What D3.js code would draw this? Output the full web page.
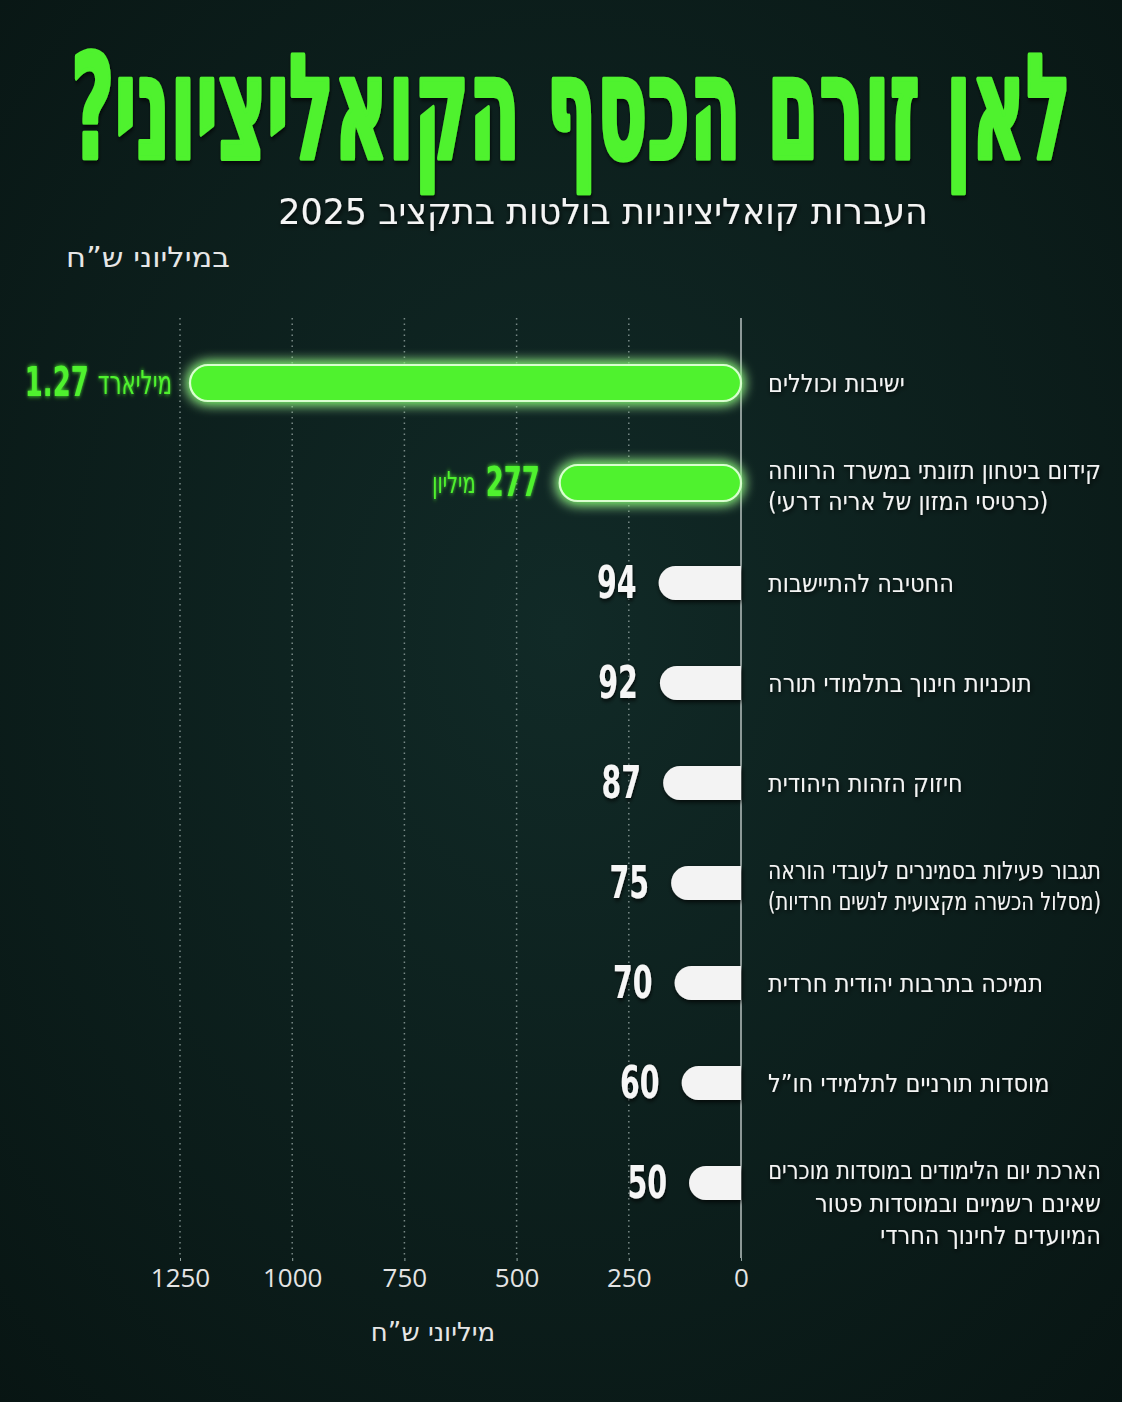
<!DOCTYPE html>
<html lang="he">
<head>
<meta charset="utf-8">
<script src="https://cdn.jsdelivr.net/npm/d3@7"></script>
<style>
  html, body { margin: 0; padding: 0; background: #0c1e1c; }
  svg { display: block; }
</style>
</head>
<body>
<svg id="chart" width="1122" height="1402"></svg>
<script>
// ---------- data ----------
const titleText = "לאן זורם הכסף הקואליציוני?";
const subtitleText = "העברות קואליציוניות בולטות בתקציב 2025";
const unitNote = "במיליוני ש”ח";
const axisTitle = "מיליוני ש”ח";

const categories = [
  "ישיבות וכוללים",
  "קידום ביטחון תזונתי במשרד הרווחה\n(כרטיסי המזון של אריה דרעי)",
  "החטיבה להתיישבות",
  "תוכניות חינוך בתלמודי תורה",
  "חיזוק הזהות היהודית",
  "תגבור פעילות בסמינרים לעובדי הוראה\n(מסלול הכשרה מקצועית לנשים חרדיות)",
  "תמיכה בתרבות יהודית חרדית",
  "מוסדות תורניים לתלמידי חו”ל",
  "הארכת יום הלימודים במוסדות מוכרים\nשאינם רשמיים ובמוסדות פטור\nהמיועדים לחינוך החרדי"
];
const values = [1270, 277, 94, 92, 87, 75, 70, 60, 50];   // millions of NIS
const tickValues = [0, 250, 500, 750, 1000, 1250];
const unitBillion = "מיליארד";
const unitMillion = "מיליון";
const highlightThreshold = 200;

// ---------- setup ----------
const W = 1122, H = 1402;
const svg = d3.select("#chart");
const GREEN = "#4ff22f";
const hebFont = "'DejaVu Sans', sans-serif";
const condFont = "'DejaVu Sans Condensed', 'DejaVu Sans', sans-serif";
const NARROW = 0.72;   // horizontal squeeze for the condensed number font

const defs = svg.append("defs");
const bg = defs.append("radialGradient").attr("id", "bg").attr("cx", "50%").attr("cy", "45%").attr("r", "75%");
bg.append("stop").attr("offset", "0%").attr("stop-color", "#112a27");
bg.append("stop").attr("offset", "100%").attr("stop-color", "#081513");

const glow = defs.append("filter").attr("id", "glow").attr("x", "-20%").attr("y", "-80%").attr("width", "140%").attr("height", "260%");
glow.append("feGaussianBlur").attr("in", "SourceGraphic").attr("stdDeviation", 7).attr("result", "b");
const gm = glow.append("feMerge");
gm.append("feMergeNode").attr("in", "b");
gm.append("feMergeNode").attr("in", "b");
gm.append("feMergeNode").attr("in", "SourceGraphic");

const tglow = defs.append("filter").attr("id", "tglow").attr("x", "-20%").attr("y", "-50%").attr("width", "140%").attr("height", "200%");
tglow.append("feGaussianBlur").attr("in", "SourceGraphic").attr("stdDeviation", 2.5).attr("result", "b");
const tm = tglow.append("feMerge");
tm.append("feMergeNode").attr("in", "b");
tm.append("feMergeNode").attr("in", "SourceGraphic");

const shadow = defs.append("filter").attr("id", "shadow").attr("x", "-20%").attr("y", "-50%").attr("width", "140%").attr("height", "200%");
shadow.append("feDropShadow").attr("dx", 1).attr("dy", 2).attr("stdDeviation", 2.5)
  .attr("flood-color", "#000").attr("flood-opacity", 0.8);

svg.append("rect").attr("width", W).attr("height", H).attr("fill", "url(#bg)");

// text fitted to a target width by a horizontal scale transform
function fittedText(parent, x, y, str, targetW, sy, anchor) {
  const g = parent.append("g");
  const t = g.append("text").attr("x", 0).attr("y", 0)
    .attr("direction", "rtl").attr("text-anchor", anchor).text(str);
  return { g, t, fit() {
    const w = t.node().getComputedTextLength();
    const sx = targetW ? targetW / w : 1;
    g.attr("transform", `translate(${x},${y}) scale(${sx},${sy})`);
    return this;
  }};
}

// ---------- scales ----------
// axis / gridlines: linear
const xAxis = d3.scaleLinear().domain([0, 1250]).range([741, 180]);
// bars in the source graphic are drawn on a compressed (power) scale
const xBar = d3.scalePow().exponent(0.73).domain([0, 1270]).range([741, 190]);
const y = d3.scaleBand().domain(d3.range(categories.length))
  .range([333, 1233]).paddingInner(0.64).paddingOuter(0.32);
const bh = y.bandwidth();

// ---------- titles ----------
const ttl = fittedText(svg, 571, 158, titleText, 1000, 1.1, "middle");
ttl.t.attr("font-family", condFont).attr("font-weight", 700).attr("font-size", 132)
  .attr("fill", GREEN).attr("stroke", GREEN).attr("stroke-width", 4).attr("stroke-linejoin", "round")
  .attr("filter", "url(#shadow)");
ttl.fit();

const sub = fittedText(svg, 603, 224, subtitleText, 650, 1, "middle");
sub.t.attr("font-family", hebFont).attr("font-size", 36)
  .attr("fill", "#f4f4f4").attr("filter", "url(#shadow)");
sub.fit();

const un = fittedText(svg, 148, 267, unitNote, 164, 1, "middle");
un.t.attr("font-family", hebFont).attr("font-size", 28).attr("fill", "#e6e6e6");
un.fit();

// ---------- grid + axis ----------
const gridTop = 318, gridBottom = 1258;
svg.append("g").selectAll("line")
  .data(tickValues.filter(d => d > 0))
  .join("line")
  .attr("x1", d => xAxis(d)).attr("x2", d => xAxis(d))
  .attr("y1", gridTop).attr("y2", gridBottom)
  .attr("stroke", "#93a3a0").attr("stroke-width", 1.5)
  .attr("stroke-dasharray", "1.5 4").attr("opacity", 0.8);

svg.append("line")
  .attr("x1", xAxis(0)).attr("x2", xAxis(0))
  .attr("y1", gridTop).attr("y2", gridBottom)
  .attr("stroke", "#b9c2c0").attr("stroke-width", 1.5);

const ax = svg.append("g").attr("transform", `translate(0,${gridBottom})`)
  .call(d3.axisBottom(xAxis).tickValues(tickValues).tickSize(3).tickPadding(8).tickFormat(d3.format("d")));
ax.select(".domain").remove();
ax.selectAll(".tick line").attr("stroke", "#93a3a0");
ax.selectAll(".tick text")
  .attr("font-family", "'Open Sans', 'Liberation Sans', sans-serif").attr("font-size", 26)
  .attr("fill", "#e4e4e4");

svg.append("text")
  .attr("x", 433).attr("y", 1341)
  .attr("direction", "rtl").attr("text-anchor", "middle")
  .attr("font-family", hebFont).attr("font-size", 26)
  .attr("fill", "#e6e6e6")
  .text(axisTitle);

// ---------- bars ----------
function leftRoundedPath(x0, x1, yTop, h) {
  const r = Math.min(h / 2, (x1 - x0));
  return `M${x1},${yTop} H${x0 + r} A${r},${r} 0 0 0 ${x0 + r},${yTop + h} H${x1} Z`;
}

const rows = values.map((v, i) => ({ v, i, label: categories[i], hi: v >= highlightThreshold }));

const barG = svg.append("g");
barG.selectAll("rect.hi")
  .data(rows.filter(d => d.hi))
  .join("rect")
  .attr("class", "hi")
  .attr("x", d => xBar(d.v))
  .attr("y", d => y(d.i))
  .attr("width", d => xBar(0) - xBar(d.v))
  .attr("height", bh)
  .attr("rx", bh / 2)
  .attr("fill", GREEN)
  .attr("stroke", "#d9ffcf").attr("stroke-width", 2.2)
  .attr("filter", "url(#glow)");

barG.selectAll("path.lo")
  .data(rows.filter(d => !d.hi))
  .join("path")
  .attr("class", "lo")
  .attr("d", d => leftRoundedPath(xBar(d.v), xBar(0), y(d.i) + 1, bh - 2))
  .attr("fill", "#f3f3f3")
  .attr("filter", "url(#shadow)");

// ---------- value labels ----------
const valG = svg.append("g");
// condensed text: anchored at its right end (xRight), squeezed horizontally
function narrowText(xRight, yBase, str, size, weight, fill, filter, rtl) {
  const g = valG.append("g").attr("transform", `translate(${xRight},${yBase}) scale(${NARROW},1)`);
  const t = g.append("text")
    .attr("x", 0).attr("y", 0)
    .attr("text-anchor", rtl ? "start" : "end")
    .attr("direction", rtl ? "rtl" : "ltr")
    .attr("font-family", condFont).attr("font-weight", weight).attr("font-size", size)
    .attr("fill", fill).attr("filter", filter)
    .text(str);
  return t.node().getComputedTextLength() * NARROW;
}

rows.forEach(d => {
  const barLeft = xBar(d.v);
  const cy = y(d.i) + bh / 2;
  if (d.hi) {
    const isBillion = d.v >= 1000;
    const numStr = isBillion ? d3.format(".2f")(d.v / 1000) : String(d.v);
    const unitStr = isBillion ? unitBillion : unitMillion;
    if (isBillion) {
      // unit beside the bar, number further left
      const uw = narrowText(barLeft - 18, cy + 11, unitStr, 33, 400, GREEN, "url(#tglow)", true);
      narrowText(barLeft - 18 - uw - 9, cy + 13, numStr, 40, 700, GREEN, "url(#tglow)", false);
    } else {
      const nw = narrowText(barLeft - 20, cy + 13, numStr, 40, 700, GREEN, "url(#tglow)", false);
      narrowText(barLeft - 20 - nw - 10, cy + 10, unitStr, 30, 400, GREEN, "url(#tglow)", true);
    }
  } else {
    narrowText(barLeft - 22, cy + 15, String(d.v), 44, 700, "#f6f6f6", "url(#shadow)", false);
  }
});

// ---------- category labels ----------
const labLeft = 768, labRight = 1101;
const labG = svg.append("g");
rows.forEach(d => {
  const lines = d.label.split("\n");
  const cy = y(d.i) + bh / 2;
  const lh = lines.length > 2 ? 32.5 : 31;
  const firstY = lines.length === 1 ? cy + 9 : cy - 4;
  const rightAligned = lines.length > 2;
  lines.forEach((ln, k) => {
    const g = labG.append("g");
    const t = g.append("text")
      .attr("x", 0).attr("y", 0)
      .attr("direction", "rtl")
      .attr("text-anchor", rightAligned ? "start" : "end")
      .attr("font-family", condFont).attr("font-size", 25)
      .attr("fill", "#f4f4f4").attr("filter", "url(#shadow)")
      .text(ln);
    const w = t.node().getComputedTextLength();
    const sx = Math.min(1, (labRight - labLeft) / w);
    g.attr("transform", `translate(${rightAligned ? labRight : labLeft},${firstY + k * lh}) scale(${sx},1)`);
  });
});
</script>
</body>
</html>
